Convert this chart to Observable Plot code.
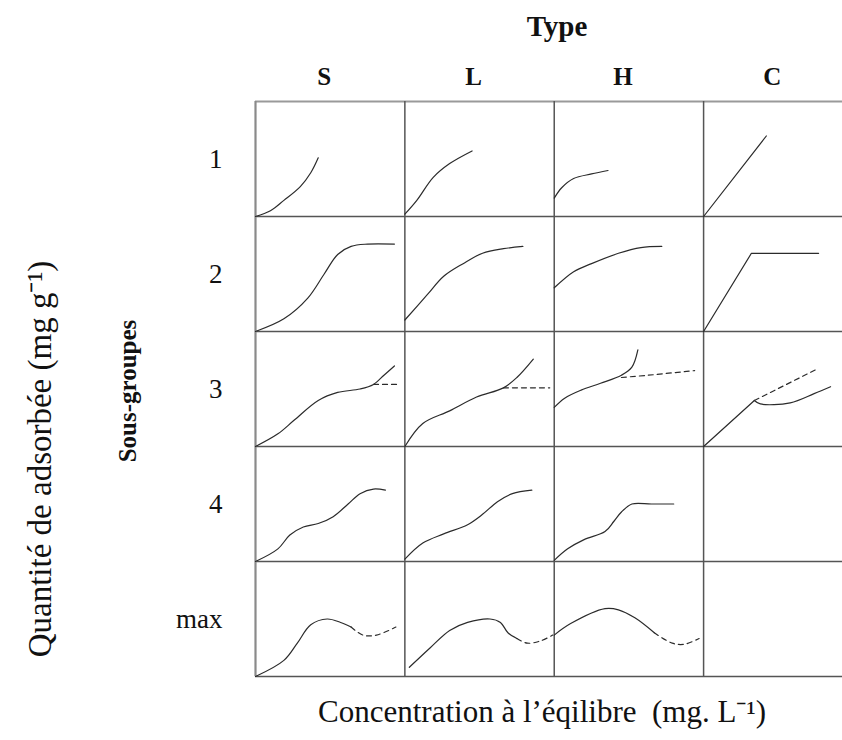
<!DOCTYPE html>
<html>
<head>
<meta charset="utf-8">
<script src="https://cdn.jsdelivr.net/npm/d3@7"></script>
<script src="https://cdn.jsdelivr.net/npm/@observablehq/plot@0.6"></script>
<style>
  html, body { margin: 0; padding: 0; background: #fff; }
  #chart svg { display: block; }
</style>
</head>
<body>
<div id="chart"></div>
<script>
// Categories
const types = ["S", "L", "H", "C"];
const subgroups = ["1", "2", "3", "4", "max"];
const xTitle = "Type";
const yTitle = "Sous-groupes";
const xLabel = "Concentration à l’éqilibre \u00a0(mg. L⁻¹)";
const yLabel = "Quantité de adsorbée (mg g⁻¹)";

// Curve shapes, in cell units [u (0..1 across), v (0..1 up)]
const S_1 = [[0,0],[0.10,0.05],[0.19,0.14],[0.30,0.26],[0.37,0.38],[0.42,0.51]];
const L_1 = [[0,0.02],[0.08,0.14],[0.19,0.34],[0.30,0.46],[0.45,0.57]];
const H_1 = [[0,0.16],[0.05,0.25],[0.13,0.33],[0.25,0.37],[0.36,0.40]];
const C_1 = [[0,0],[0.42,0.70]];

const S_2 = [[0,0],[0.19,0.11],[0.35,0.29],[0.46,0.50],[0.55,0.67],[0.64,0.74],[0.75,0.76],[0.93,0.76]];
const L_2 = [[0,0.10],[0.15,0.32],[0.26,0.48],[0.39,0.59],[0.52,0.68],[0.66,0.72],[0.79,0.74]];
const H_2 = [[0,0.38],[0.13,0.52],[0.25,0.59],[0.43,0.68],[0.58,0.73],[0.72,0.74]];
const C_2 = [[0,0],[0.32,0.68],[0.77,0.68]];

const S_3 = [[0,0],[0.15,0.11],[0.26,0.23],[0.42,0.40],[0.55,0.47],[0.70,0.50],[0.79,0.54],[0.86,0.62],[0.93,0.70]];
const S_3d = [[0.79,0.54],[0.96,0.54]];
const L_3 = [[0,0],[0.12,0.20],[0.30,0.31],[0.48,0.43],[0.66,0.51],[0.75,0.60],[0.86,0.76]];
const L_3d = [[0.66,0.51],[0.97,0.51]];
const H_3 = [[0,0.34],[0.07,0.42],[0.18,0.49],[0.31,0.55],[0.45,0.62],[0.52,0.69],[0.56,0.84]];
const H_3d = [[0.45,0.60],[0.63,0.62],[0.94,0.66]];
const C_3 = [[0,0],[0.34,0.40]];
const C_3b = [[0.34,0.40],[0.38,0.37],[0.58,0.38],[0.74,0.46],[0.85,0.52]];
const C_3d = [[0.34,0.40],[0.77,0.68]];

const S_4 = [[0,0],[0.15,0.11],[0.23,0.23],[0.32,0.30],[0.42,0.33],[0.52,0.39],[0.62,0.50],[0.70,0.59],[0.79,0.63],[0.87,0.62]];
const L_4 = [[0,0.02],[0.12,0.16],[0.26,0.24],[0.42,0.32],[0.52,0.41],[0.62,0.52],[0.72,0.59],[0.85,0.62]];
const H_4 = [[0,0.01],[0.09,0.11],[0.20,0.19],[0.34,0.26],[0.40,0.35],[0.45,0.43],[0.52,0.50],[0.65,0.50],[0.80,0.50]];

const S_max = [[0,0],[0.19,0.14],[0.28,0.29],[0.37,0.45],[0.48,0.50],[0.57,0.47],[0.64,0.43]];
const S_maxd = [[0.64,0.43],[0.72,0.36],[0.81,0.36],[0.94,0.43]];
const L_max = [[0.03,0.08],[0.17,0.25],[0.30,0.40],[0.42,0.47],[0.57,0.50],[0.64,0.47],[0.69,0.38],[0.75,0.33]];
const L_maxd = [[0.75,0.33],[0.82,0.29],[0.91,0.31],[0.99,0.36]];
const H_max = [[0,0.36],[0.11,0.46],[0.34,0.59],[0.43,0.58],[0.54,0.51],[0.67,0.38]];
const H_maxd = [[0.67,0.38],[0.79,0.29],[0.87,0.28],[0.97,0.33]];

const curves = [
  {type:"S", sub:"1", kind:"solid", pts:S_1},
  {type:"L", sub:"1", kind:"solid", pts:L_1},
  {type:"H", sub:"1", kind:"solid", pts:H_1},
  {type:"C", sub:"1", kind:"straight", pts:C_1},
  {type:"S", sub:"2", kind:"solid", pts:S_2},
  {type:"L", sub:"2", kind:"solid", pts:L_2},
  {type:"H", sub:"2", kind:"solid", pts:H_2},
  {type:"C", sub:"2", kind:"straight", pts:C_2},
  {type:"S", sub:"3", kind:"solid", pts:S_3},
  {type:"S", sub:"3", kind:"dash", pts:S_3d},
  {type:"L", sub:"3", kind:"solid", pts:L_3},
  {type:"L", sub:"3", kind:"dash", pts:L_3d},
  {type:"H", sub:"3", kind:"solid", pts:H_3},
  {type:"H", sub:"3", kind:"dash", pts:H_3d},
  {type:"C", sub:"3", kind:"straight", pts:C_3},
  {type:"C", sub:"3", kind:"solid", pts:C_3b},
  {type:"C", sub:"3", kind:"dash", pts:C_3d},
  {type:"S", sub:"4", kind:"solid", pts:S_4},
  {type:"L", sub:"4", kind:"solid", pts:L_4},
  {type:"H", sub:"4", kind:"solid", pts:H_4},
  {type:"S", sub:"max", kind:"solid", pts:S_max},
  {type:"S", sub:"max", kind:"dash", pts:S_maxd},
  {type:"L", sub:"max", kind:"solid", pts:L_max},
  {type:"L", sub:"max", kind:"dash", pts:L_maxd},
  {type:"H", sub:"max", kind:"solid", pts:H_max},
  {type:"H", sub:"max", kind:"dash", pts:H_maxd}
];

const nRows = subgroups.length;
const rows = curves.flatMap((c, k) => c.pts.map(([u, v]) => ({
  id: k,
  kind: c.kind,
  x: types.indexOf(c.type) + u,
  y: (nRows - 1 - subgroups.indexOf(c.sub)) + v
})));

const xMax = 3.93;           // visible part of the grid (last column is cut by the page edge)
const colLines = d3.range(types.length);          // 0..3
const rowLines = d3.range(nRows + 1);              // 0..5
const ink = "#2b2b2b";
const font = "'Liberation Serif', 'Times New Roman', serif";

const chart = Plot.plot({
  width: 842,
  height: 740,
  marginLeft: 255,
  marginRight: 0,
  marginTop: 101,
  marginBottom: 64,
  x: {domain: [0, xMax], axis: null},
  y: {domain: [0, nRows], axis: null},
  style: {fontFamily: font, background: "#fff", color: "#111"},
  marks: [
    // grid
    Plot.ruleY(rowLines.filter(d => d < nRows), {stroke: "#555", strokeWidth: 1.5}),
    Plot.ruleY([nRows], {stroke: "#9a9a9a", strokeWidth: 2.2}),
    Plot.ruleX(colLines.filter(d => d > 0), {stroke: "#555", strokeWidth: 1.5}),
    Plot.ruleX([0], {stroke: "#8a8a8a", strokeWidth: 2.2}),
    // curves
    Plot.line(rows.filter(d => d.kind === "solid"), {x: "x", y: "y", z: "id", curve: "catmull-rom", stroke: ink, strokeWidth: 1.2}),
    Plot.line(rows.filter(d => d.kind === "straight"), {x: "x", y: "y", z: "id", curve: "linear", stroke: ink, strokeWidth: 1.2}),
    Plot.line(rows.filter(d => d.kind === "dash"), {x: "x", y: "y", z: "id", curve: "catmull-rom", stroke: ink, strokeWidth: 1.2, strokeDasharray: "5,4"}),
    // column headers
    Plot.text(types, {x: (d, i) => i + 0.5, y: nRows, text: d => d, dx: -6, dy: -25, fontSize: 25, fontWeight: "bold", fill: "#111"}),
    // row labels
    Plot.text(subgroups, {x: 0, y: (d, i) => nRows - 0.5 - i, text: d => d, dx: -33, textAnchor: "end", fontSize: 27, fill: "#111"}),
    // titles
    Plot.text([xTitle], {frameAnchor: "top", dx: 8, dy: -75, lineAnchor: "middle", fontSize: 29, fontWeight: "bold", fill: "#111"}),
    Plot.text([yTitle], {frameAnchor: "left", textAnchor: "middle", lineAnchor: "middle", dx: -128, dy: 2, rotate: -90, fontSize: 25, fontWeight: "bold", fill: "#111"}),
    Plot.text([yLabel], {frameAnchor: "left", textAnchor: "middle", lineAnchor: "middle", dx: -215, dy: 70, rotate: -90, fontSize: 33, fill: "#111"}),
    Plot.text([xLabel], {frameAnchor: "bottom", textAnchor: "middle", lineAnchor: "middle", dx: -7, dy: 36, fontSize: 31, fill: "#111"})
  ]
});

document.getElementById("chart").appendChild(chart);
</script>
</body>
</html>
